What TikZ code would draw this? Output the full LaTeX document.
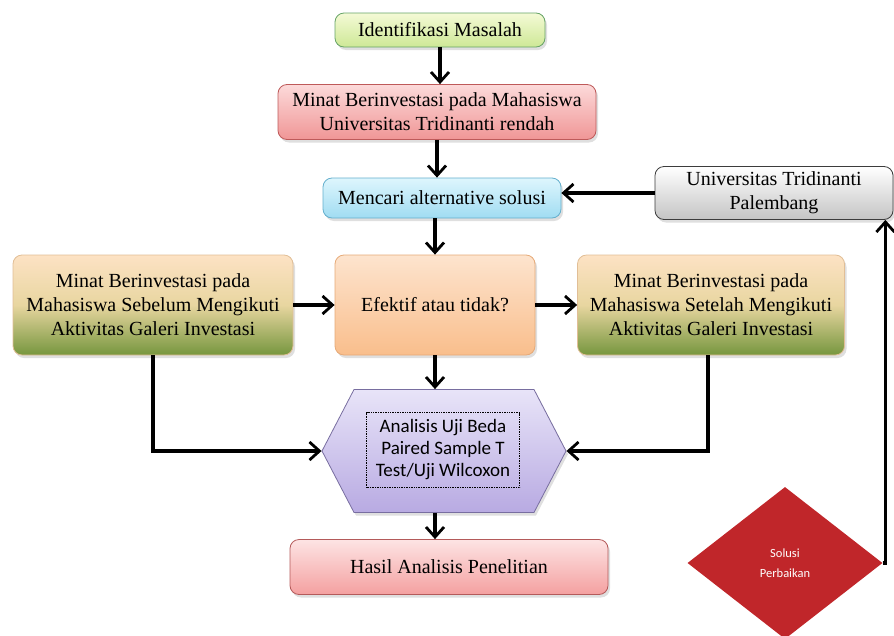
\documentclass[tikz,border=0pt]{standalone}
\usepackage{fontspec}
\setmainfont{Liberation Serif}
\newfontfamily\carlito{Carlito}
\usetikzlibrary{arrows.meta,shapes.geometric,shapes.symbols,shadows}
\begin{document}
\begin{tikzpicture}[x=1pt,y=-1pt,
  box/.style={draw, rounded corners=9pt, line width=0.8pt, align=center, inner sep=2pt,
    font=\fontsize{20}{24}\selectfont,
    drop shadow={opacity=0.25, shadow xshift=2pt, shadow yshift=-3pt}},
  arr/.style={line width=3.2pt, -{Straight Barb[length=10pt,width=18pt,line width=2.8pt]}},
  ln/.style={line width=3.2pt}]
\useasboundingbox (0,0) rectangle (894,635);

\node[box, minimum width=210, minimum height=34, draw=green!40!black!60,
  top color={rgb,255:red,244;green,250;blue,214}, bottom color={rgb,255:red,206;green,232;blue,150}]
  (ident) at (440,30) {Identifikasi Masalah};

\node[box, minimum width=318, minimum height=55, draw={rgb,255:red,190;green,90;blue,90},
  top color={rgb,255:red,252;green,218;blue,218}, bottom color={rgb,255:red,240;green,150;blue,150}]
  (minat) at (437,112) {Minat Berinvestasi pada Mahasiswa\\Universitas Tridinanti rendah};

\node[box, minimum width=238, minimum height=40, draw={rgb,255:red,100;green,175;blue,205},
  top color={rgb,255:red,222;green,246;blue,253}, bottom color={rgb,255:red,160;green,220;blue,242}]
  (cari) at (442,198) {Mencari alternative solusi};

\node[box, minimum width=238, minimum height=53, draw={rgb,255:red,60;green,60;blue,60},
  top color=white, bottom color={rgb,255:red,196;green,196;blue,196}]
  (univ) at (774,193) {Universitas Tridinanti\\Palembang};

\node[box, minimum width=280, minimum height=100, draw={rgb,255:red,225;green,190;blue,150},
  top color={rgb,255:red,253;green,226;blue,196}, bottom color={rgb,255:red,118;green,150;blue,62},
  middle color={rgb,255:red,232;green,214;blue,160}]
  (sebelum) at (153,305) {Minat Berinvestasi pada\\Mahasiswa Sebelum Mengikuti\\Aktivitas Galeri Investasi};

\node[box, minimum width=200, minimum height=100, draw={rgb,255:red,230;green,170;blue,120},
  top color={rgb,255:red,253;green,228;blue,206}, bottom color={rgb,255:red,249;green,190;blue,140}]
  (efektif) at (435,305) {Efektif atau tidak?};

\node[box, minimum width=267, minimum height=100, draw={rgb,255:red,225;green,190;blue,150},
  top color={rgb,255:red,253;green,226;blue,196}, bottom color={rgb,255:red,118;green,150;blue,62},
  middle color={rgb,255:red,232;green,214;blue,160}]
  (setelah) at (711,305) {Minat Berinvestasi pada\\Mahasiswa Setelah Mengikuti\\Aktivitas Galeri Investasi};

\node[signal, signal to=east and west, signal pointer angle=125, draw={rgb,255:red,120;green,110;blue,160},
  line width=0.8pt, minimum width=244, minimum height=123, inner sep=0pt,
  top color={rgb,255:red,232;green,228;blue,248}, bottom color={rgb,255:red,184;green,170;blue,226},
  drop shadow={opacity=0.25, shadow xshift=2pt, shadow yshift=-3pt}]
  (hex) at (444,451) {};
\node[draw, densely dotted, line width=0.7pt, minimum width=153, minimum height=75, align=center,
  font=\carlito\fontsize{19}{22}\selectfont, inner sep=1pt]
  (hext) at (443,450) {Analisis Uji Beda\\Paired Sample T\\Test/Uji Wilcoxon};

\node[box, minimum width=318, minimum height=55, draw={rgb,255:red,180;green,90;blue,90},
  top color={rgb,255:red,253;green,228;blue,228}, bottom color={rgb,255:red,244;green,160;blue,160}]
  (hasil) at (449,567) {Hasil Analisis Penelitian};

\node[diamond, minimum width=195, minimum height=152, inner sep=0pt,
  fill={rgb,255:red,192;green,38;blue,42}, text=white, align=center,
  font=\carlito\fontsize{12.5}{20}\selectfont]
  (solusi) at (785,563) {Solusi\\Perbaikan};

\draw[arr] (ident) -- (ident |- minat.north);
\draw[arr] (minat) -- (minat.south |- cari.north);
\draw[arr] (univ.west) -- (univ.west -| cari.east);
\draw[arr] (cari.south -| efektif.north) -- (efektif.north);
\draw[arr] (sebelum) -- (efektif);
\draw[arr] (efektif) -- (setelah);
\draw[arr] (efektif.south) -- (efektif.south |- hex.north);
\draw[arr] (sebelum.south) |- (hex.west);
\draw[arr] ([xshift=-3pt]setelah.south) |- (hex.east);
\draw[arr] (hex.south -| hasil.north) ++(-14,0) -- ([xshift=-14pt]hasil.north);
\draw[arr] (solusi.east) -| ([xshift=-8pt]univ.south east);
\end{tikzpicture}
\end{document}
